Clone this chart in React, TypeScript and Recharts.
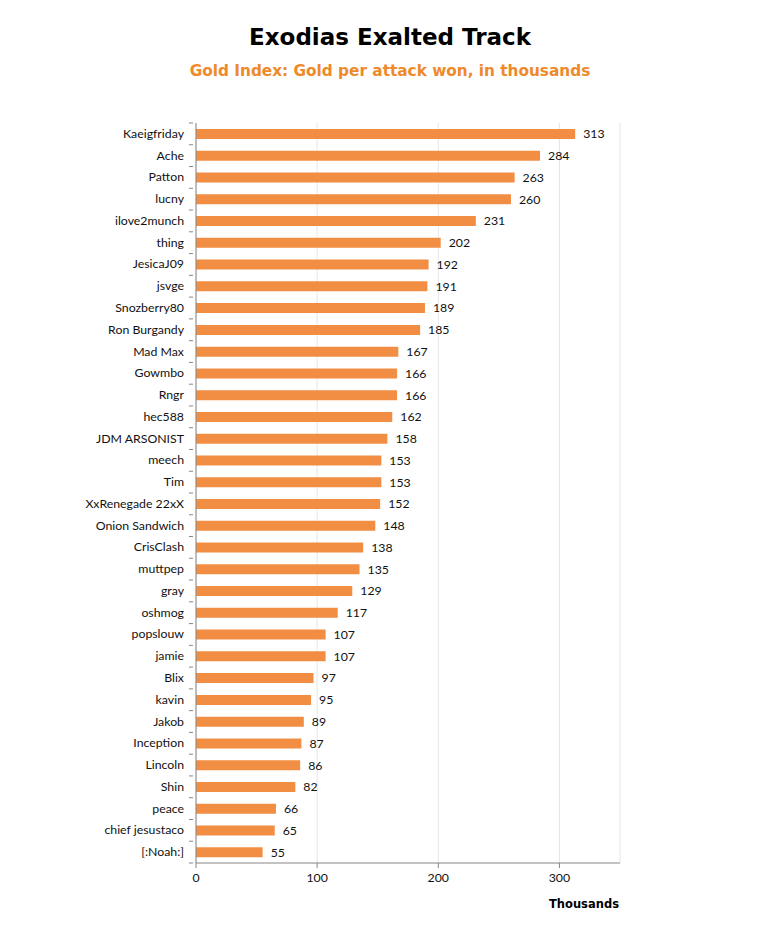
import { BarChart, Bar, XAxis, YAxis, CartesianGrid, LabelList } from 'recharts';

const players = [
  'Kaeigfriday', 'Ache', 'Patton', 'lucny', 'ilove2munch', 'thing', 'JesicaJ09', 'jsvge',
  'Snozberry80', 'Ron Burgandy', 'Mad Max', 'Gowmbo', 'Rngr', 'hec588', 'JDM ARSONIST',
  'meech', 'Tim', 'XxRenegade 22xX', 'Onion Sandwich', 'CrisClash', 'muttpep', 'gray',
  'oshmog', 'popslouw', 'jamie', 'Blix', 'kavin', 'Jakob', 'Inception', 'Lincoln', 'Shin',
  'peace', 'chief jesustaco', '[:Noah:]',
];
const goldIndex = [
  313, 284, 263, 260, 231, 202, 192, 191, 189, 185, 167, 166, 166, 162, 158,
  153, 153, 152, 148, 138, 135, 129, 117, 107, 107, 97, 95, 89, 87, 86, 82,
  66, 65, 55,
];
const xTicks = [0, 100, 200, 300];

const data = players.map((name, i) => ({ name, value: goldIndex[i] }));

const ORANGE = '#F28E43';
const AXIS = '#868686';
const FONT = 'Lato, "Open Sans", sans-serif';

// category label plus an Excel-style tick between categories
function NameTick(props: any) {
  const { x, y, payload } = props;
  const step = 740 / players.length;
  return (
    <g>
      <line x1={x + 1} x2={x + 5} y1={y - step / 2} y2={y - step / 2} stroke={AXIS} />
      {payload.index === players.length - 1 && (
        <line x1={x + 1} x2={x + 5} y1={y + step / 2} y2={y + step / 2} stroke={AXIS} />
      )}
      <text x={x - 4} y={y} dy={4} textAnchor="end" fontSize={12.3} fill="#111" fontFamily={FONT}>
        {payload.value}
      </text>
    </g>
  );
}

export default function App() {
  return (
    <div style={{ position: 'absolute', left: 0, top: 0, width: 780, height: 940, background: '#fff' }}>
      <div
        style={{
          position: 'absolute', top: 24, width: 780, textAlign: 'center',
          fontFamily: '"DejaVu Sans", sans-serif', fontWeight: 900, fontSize: 23, color: '#000',
        }}
      >
        Exodias Exalted Track
      </div>
      <div
        style={{
          position: 'absolute', top: 62, width: 780, textAlign: 'center',
          fontFamily: '"DejaVu Sans", sans-serif', fontWeight: 700, fontSize: 15.3, color: '#EE8A2B',
        }}
      >
        Gold Index: Gold per attack won, in thousands
      </div>
      <BarChart
        width={780}
        height={940}
        data={data}
        layout="vertical"
        margin={{ top: 123, right: 160, bottom: 48, left: 0 }}
      >
        <CartesianGrid horizontal={false} stroke="#E6E6E6" />
        <XAxis
          type="number"
          domain={[0, 350]}
          ticks={xTicks}
          stroke={AXIS}
          tickSize={5}
          tick={{ fontSize: 12.3, fill: '#111', fontFamily: FONT }}
          tickMargin={5}
          height={29}
        />
        <YAxis
          type="category"
          dataKey="name"
          width={196}
          stroke={AXIS}
          tickLine={false}
          interval={0}
          tick={<NameTick />}
        />
        <Bar dataKey="value" fill={ORANGE} barSize={10} isAnimationActive={false}>
          <LabelList dataKey="value" position="right" offset={8} fontSize={12.3} fill="#111" fontFamily={FONT} />
        </Bar>
      </BarChart>
      <div
        style={{
          position: 'absolute', left: 549, top: 897, fontFamily: '"DejaVu Sans", sans-serif',
          fontWeight: 700, fontSize: 11.5, color: '#000',
        }}
      >
        Thousands
      </div>
    </div>
  );
}
